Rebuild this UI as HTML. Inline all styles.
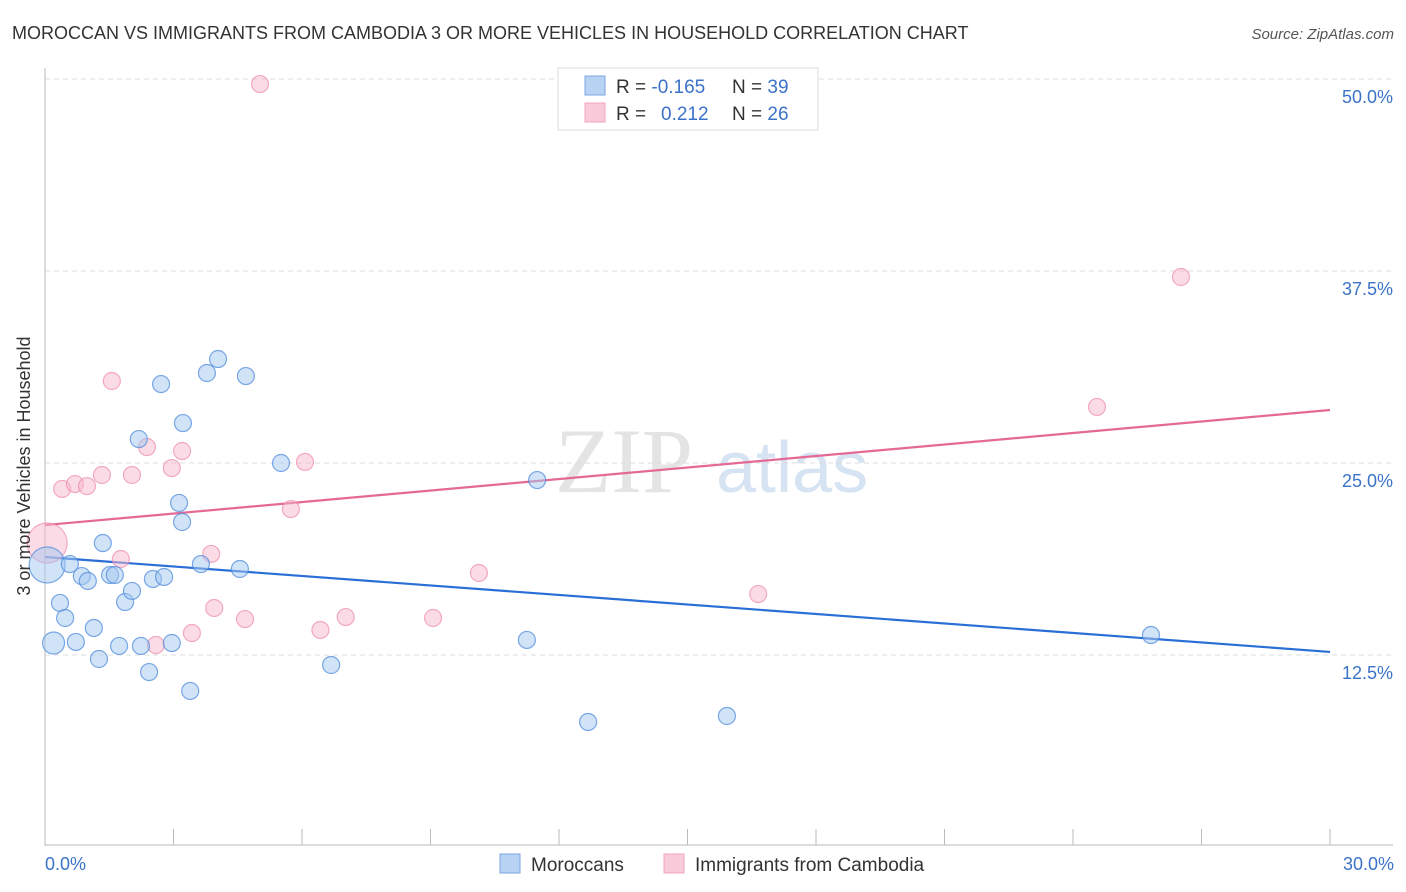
<!DOCTYPE html>
<html><head><meta charset="utf-8"><style>
body{margin:0;background:#fff;font-family:"Liberation Sans",sans-serif;}
svg{display:block}
</style></head><body>
<svg id="chart" width="1406" height="892" xmlns="http://www.w3.org/2000/svg">
<text x="12" y="39" font-size="18" fill="#333">MOROCCAN VS IMMIGRANTS FROM CAMBODIA 3 OR MORE VEHICLES IN HOUSEHOLD CORRELATION CHART</text>
<text x="1394" y="39" font-size="15" fill="#555" font-style="italic" text-anchor="end">Source: ZipAtlas.com</text>
<g>
<text x="555" y="492" font-size="92" fill="#e4e4e4" font-family="Liberation Serif,serif">ZIP</text>
<text x="716" y="492" font-size="72" fill="#d5e3f3">atlas</text>
</g>
<g id="grid"></g>
<g id="axes"></g>
<g id="lines"></g>
<g id="pts"></g>
<text x="20" y="456" font-size="18" fill="#333" text-anchor="middle" transform="rotate(-90 30 456)">3 or more Vehicles in Household</text>
<text x="45" y="870" font-size="18" fill="#3b73c8">0.0%</text>
<text x="1394" y="870" font-size="18" fill="#3b73c8" text-anchor="end">30.0%</text>
<g>
<rect x="558" y="68" width="260" height="62" fill="#fff" stroke="#ddd"/>
<rect x="585" y="76" width="20" height="19" fill="#b8d2f4" stroke="#7aa6e0"/>
<rect x="585" y="103" width="20" height="19" fill="#f9cad9" stroke="#f0a4bd"/>
<text x="616" y="93" font-size="19" fill="#333">R = <tspan fill="#3b73c8">-0.165</tspan></text>
<text x="732" y="93" font-size="19" fill="#333">N = <tspan fill="#3b73c8">39</tspan></text>
<text x="616" y="120" font-size="19" fill="#333">R = <tspan fill="#3b73c8" x="661">0.212</tspan></text>
<text x="732" y="120" font-size="19" fill="#333">N = <tspan fill="#3b73c8">26</tspan></text>
</g>
<g>
<rect x="500" y="854" width="20" height="19" fill="#b8d2f4" stroke="#7aa6e0"/>
<text x="531" y="871" font-size="19" fill="#333">Moroccans</text>
<rect x="664" y="854" width="20" height="19" fill="#f9cad9" stroke="#f0a4bd"/>
<text x="695" y="871" font-size="19" fill="#333">Immigrants from Cambodia</text>
</g>
</svg>
<script>
const yTicks=[12.5,25,37.5,50];
const yTickLabels=["12.5%","25.0%","37.5%","50.0%"];
const blueX=[0.05,0.2,0.35,0.47,0.58,0.72,0.86,1.0,1.14,1.26,1.35,1.52,1.63,1.73,1.87,2.03,2.19,2.24,2.43,2.52,2.71,2.78,2.96,3.13,3.22,3.2,3.39,3.64,3.78,4.04,4.55,4.69,5.51,6.68,11.25,11.49,12.68,15.92,25.82];
const blueY=[18.36,13.28,15.89,14.91,18.42,13.35,17.64,17.32,14.26,12.24,19.79,17.71,17.71,13.09,15.95,16.67,26.56,13.09,11.39,17.45,30.14,17.58,13.28,22.4,27.6,21.16,10.16,18.42,30.86,31.77,18.1,30.66,25.0,11.85,13.48,23.89,8.14,8.53,13.8];
const pinkX=[0.05,0.4,0.7,0.98,1.33,1.56,1.77,2.03,2.38,2.59,2.96,3.2,3.43,3.88,3.95,4.67,5.02,5.74,6.07,6.43,7.02,9.06,10.13,16.65,24.56,26.52];
const pinkY=[19.79,23.31,23.63,23.5,24.22,30.34,18.75,24.22,26.04,13.15,24.67,25.78,13.93,19.08,15.56,14.84,49.67,22.0,25.07,14.13,14.97,14.91,17.84,16.47,28.65,37.11];
const blueTrend=[18.88,12.7];
const pinkTrend=[20.96,28.45];
const NS="http://www.w3.org/2000/svg";
const X=v=>45+v/30*1285, Y=v=>847-v/12.5*192;
function mk(tag,attrs,parent){const e=document.createElementNS(NS,tag);for(const k in attrs)e.setAttribute(k,attrs[k]);document.getElementById(parent).appendChild(e);return e;}
yTicks.forEach((t,i)=>{
 const l=mk('line',{x1:45,x2:1393,y1:Y(t),y2:Y(t),stroke:'#ddd','stroke-dasharray':'5,4'},'grid');
 
 
 const tx=mk('text',{x:1393,y:Y(t)+24,'font-size':18,fill:'#3b73c8','text-anchor':'end'},'grid');
 tx.textContent=yTickLabels[i];
 
 
});
mk('line',{x1:45,x2:45,y1:68,y2:846,stroke:'#bbb'},'axes');
mk('line',{x1:45,x2:1393,y1:845,y2:845,stroke:'#bbb'},'axes');
for(let i=0;i<=10;i++){const t=mk('line',{x1:X(i*3),x2:X(i*3),y1:829,y2:845,stroke:'#bbb'},'axes');
 
 }
const bl=mk('line',{x1:X(0),x2:X(30),y1:Y(blueTrend[0]),y2:Y(blueTrend[1]),stroke:'#2a6fd6','stroke-width':2.2},'lines');


const pl=mk('line',{x1:X(0),x2:X(30),y1:Y(pinkTrend[0]),y2:Y(pinkTrend[1]),stroke:'#e46a94','stroke-width':2.2},'lines');


pinkX.forEach((x,i)=>{const c=mk('circle',{cx:X(x),cy:Y(pinkY[i]),r:i==0?20:8.5,fill:'rgba(248,183,205,0.5)',stroke:'rgba(236,140,172,0.7)','stroke-width':1.2},'pts');
 
 });
blueX.forEach((x,i)=>{const c=mk('circle',{cx:X(x),cy:Y(blueY[i]),r:i==0?18:(i==1?11:8.5),fill:'rgba(164,199,240,0.5)',stroke:'rgba(80,140,220,0.75)','stroke-width':1.2},'pts');
 
 });
</script>
</body></html>
